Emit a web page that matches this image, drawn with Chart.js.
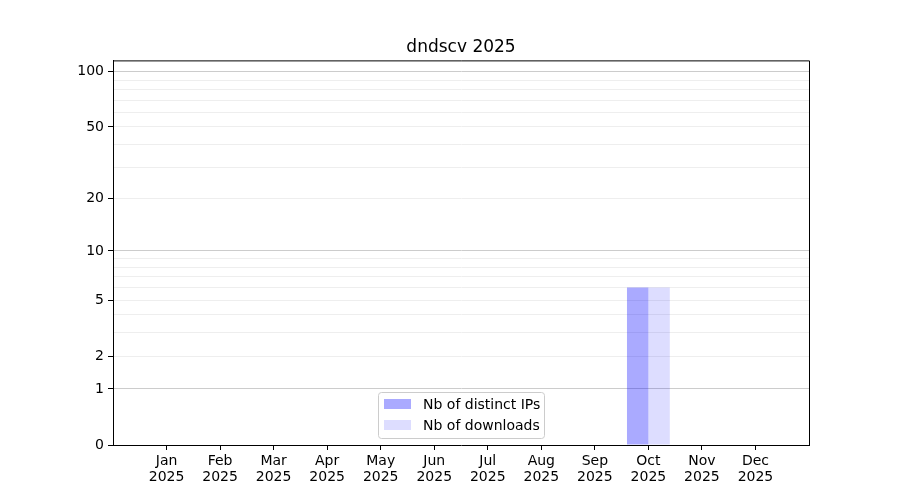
<!DOCTYPE html>
<html>
<head>
<meta charset="utf-8">
<script src="https://cdn.jsdelivr.net/npm/chart.js@4.4.1/dist/chart.umd.min.js"></script>
<style>
  body { margin: 0; background: #fff; }
  canvas { display: block; }
</style>
</head>
<body>
<canvas id="myChart" width="900" height="500"></canvas>
<script>
// values
const months = ['Jan', 'Feb', 'Mar', 'Apr', 'May', 'Jun', 'Jul', 'Aug', 'Sep', 'Oct', 'Nov', 'Dec'];
const year = '2025';
const distinct_ips = [0, 0, 0, 0, 0, 0, 0, 0, 0, 6, 0, 0];
const downloads = [0, 0, 0, 0, 0, 0, 0, 0, 0, 6, 0, 0];
const y_labelled = [0, 1, 2, 5, 10, 20, 50, 100];
const y_minor = [3, 4, 6, 7, 8, 9, 30, 40, 60, 70, 80, 90];
const y_major_grid = [1, 10, 100];
const y_top = 115;

// y axis is log10(1 + v)
function tr(v) { return Math.log10(1 + v); }

// one empty slot each side so months sit where matplotlib put them
let label = [''].concat(months.map(m => [m, year]), ['']);
let ips_data = [null].concat(distinct_ips.map(tr), [null]);
let dl_data = [null].concat(downloads.map(tr), [null]);
let y_all = y_labelled.concat(y_minor).sort((a, b) => a - b);

const frame_legend = {
    id: 'frame_legend',
    afterDatasetsDraw(chart) {
        const c = chart.ctx;
        const a = chart.chartArea;
        // top and right spines
        c.save();
        c.strokeStyle = '#000';
        c.lineWidth = 1;
        c.beginPath();
        c.moveTo(a.left, a.top + 0.5);
        c.lineTo(a.right + 0.5, a.top + 0.5);
        c.lineTo(a.right + 0.5, a.bottom);
        c.stroke();

        // legend, lower center inside the axes
        const w = 166, h = 46;
        const x0 = (a.left + a.right) / 2 - w / 2;
        const y0 = a.bottom - 7 - h;
        c.fillStyle = 'rgba(255,255,255,0.8)';
        c.strokeStyle = '#cccccc';
        c.beginPath();
        c.roundRect(x0 + 0.5, y0 + 0.5, w, h, 3);
        c.fill();
        c.stroke();
        c.font = '14px "DejaVu Sans"';
        c.textBaseline = 'middle';
        chart.data.datasets.forEach((ds, i) => {
            const cy = y0 + 12 + i * 21;
            c.fillStyle = ds.backgroundColor;
            c.fillRect(x0 + 6, cy - 5, 27, 10);
            c.fillStyle = '#000';
            c.fillText(ds.label, x0 + 45, cy + 1);
        });
        c.restore();
    }
};

Chart.defaults.font.family = '"DejaVu Sans"';
Chart.defaults.color = '#000';

var ctx = document.getElementById('myChart');
var chart = new Chart(ctx, {
    type: 'bar',
    data: {
        labels: label,
        datasets: [
            {
                label: 'Nb of distinct IPs',
                data: ips_data,
                backgroundColor: 'rgba(0,0,255,0.333)',
                borderWidth: 0,
                categoryPercentage: 0.8,
                barPercentage: 1.0
            },
            {
                label: 'Nb of downloads',
                data: dl_data,
                backgroundColor: 'rgba(0,0,255,0.133)',
                borderWidth: 0,
                categoryPercentage: 0.8,
                barPercentage: 1.0
            }
        ]
    },
    options: {
        responsive: false,
        animation: false,
        devicePixelRatio: 1,
        layout: { padding: { left: 0, right: 91, top: 0, bottom: 0 } },
        scales: {
            x: {
                offset: false,
                grid: {
                    offset: false,
                    drawOnChartArea: false,
                    drawTicks: true,
                    tickLength: 5,
                    tickColor: (c) => (c.index == 0 || c.index == label.length - 1) ? 'rgba(0,0,0,0)' : '#000'
                },
                border: { color: '#000', width: 1 },
                ticks: {
                    autoSkip: false,
                    maxRotation: 0,
                    padding: 3,
                    font: { size: 14, lineHeight: 1.15 }
                },
                afterFit: (s) => { s.height = 55; }
            },
            y: {
                type: 'linear',
                min: 0,
                max: tr(y_top),
                afterBuildTicks: (s) => {
                    s.ticks = y_all.map(v => ({ value: tr(v), raw: v }));
                },
                grid: {
                    drawTicks: true,
                    tickLength: 5,
                    color: (c) => {
                        if (!c.tick || c.tick.raw === 0) return 'rgba(0,0,0,0)';
                        return y_major_grid.includes(c.tick.raw) ? '#cccccc' : '#eeeeee';
                    },
                    tickColor: (c) => (c.tick && y_labelled.includes(c.tick.raw)) ? '#000' : 'rgba(0,0,0,0)'
                },
                border: { color: '#000', width: 1 },
                ticks: {
                    autoSkip: false,
                    padding: 4,
                    font: { size: 14 },
                    callback: function (value, index, ticks) {
                        const r = ticks[index].raw;
                        return y_labelled.includes(r) ? String(r) : '';
                    }
                },
                afterFit: (s) => { s.width = 113; }
            }
        },
        plugins: {
            title: {
                display: true,
                fullSize: false,
                text: 'dndscv 2025',
                font: { size: 17, weight: 'normal' },
                padding: { top: 37, bottom: 3 }
            },
            legend: { display: false },
            tooltip: { enabled: false }
        }
    },
    plugins: [frame_legend]
});
</script>
</body>
</html>
